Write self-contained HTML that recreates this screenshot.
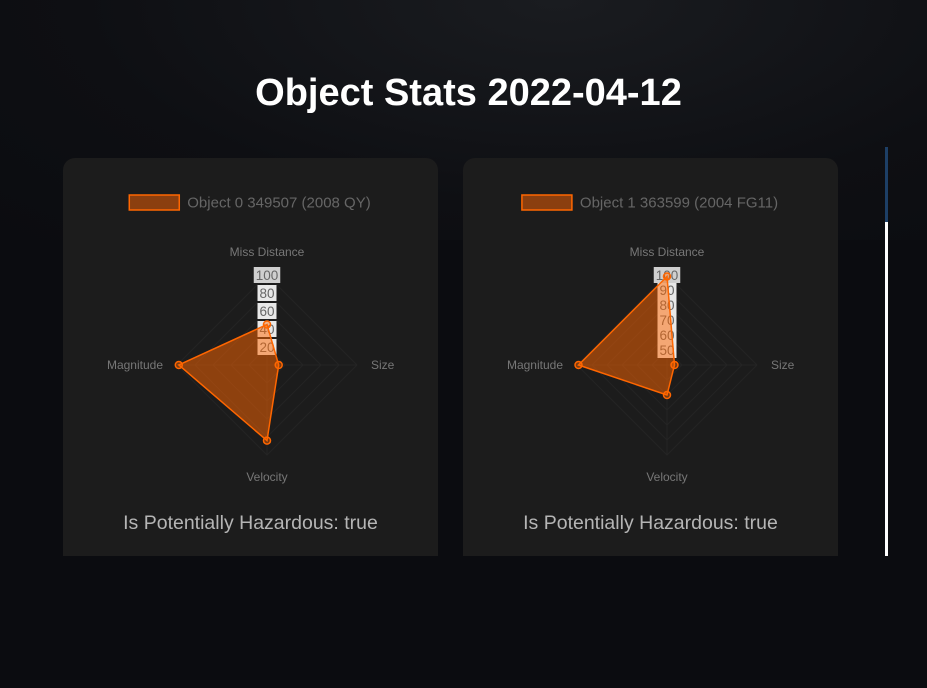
<!DOCTYPE html>
<html><head><meta charset="utf-8">
<style>
html,body{margin:0;padding:0;width:927px;height:688px;overflow:hidden;background:#0b0c10;font-family:"Liberation Sans",sans-serif;}
.bgtex{position:absolute;left:0;top:0;width:927px;height:240px;background:radial-gradient(ellipse at 60% 0%,#1a1c20 0%,#0e0f13 60%,#0b0c10 100%);}
h1{position:absolute;left:0;top:72px;width:937px;text-align:center;margin:0;color:#fff;font-size:38px;font-weight:bold;}
.card{position:absolute;top:158px;width:375px;height:398px;background:#1c1c1c;border-radius:12px 12px 0 0;}
.haz{position:absolute;top:354px;width:100%;text-align:center;color:#b5b5b5;font-size:19.5px;}
.sb1{position:absolute;left:885px;top:147px;width:3px;height:75px;background:#1d3f66;}
.sb2{position:absolute;left:885px;top:222px;width:3px;height:334px;background:#fff;}
</style></head><body>
<div class="bgtex"></div>
<h1>Object Stats 2022-04-12</h1>
<div class="card" style="left:63px">
<svg id="c0" width="375" height="340"></svg>
<div class="haz">Is Potentially Hazardous: true</div></div>
<div class="card" style="left:463px">
<svg id="c1" width="375" height="340"></svg>
<div class="haz">Is Potentially Hazardous: true</div></div>
<div class="sb1"></div>
<div class="sb2"></div>
<script>
const axisLabels=["Miss Distance","Size","Velocity","Magnitude"];
const names=["Object 0 349507 (2008 QY)","Object 1 363599 (2004 FG11)"];
const values0=[45,13,84,98];
const values1=[99,45,60,99];
const ticks0=[20,40,60,80,100];
const ticks1=[50,60,70,80,90,100];
const mins=[0,40];
const NS="http://www.w3.org/2000/svg";
function mk(svg,tag,attrs){const e=document.createElementNS(NS,tag);for(const k in attrs)e.setAttribute(k,attrs[k]);svg.appendChild(e);return e;}
function ctxW(s,f){const c=document.createElement('canvas').getContext('2d');c.font=f+'px "Liberation Sans"';return c.measureText(s).width;}
function draw(id,vals,ticks,min,name){
  const svg=document.getElementById(id);
  const cx=204,cy=207,R=90,max=100;
  const r=v=>(v-min)/(max-min)*R;
  const ang=i=>-Math.PI/2+i*Math.PI/2;
  const pt=(i,rr)=>[cx+rr*Math.cos(ang(i)),cy+rr*Math.sin(ang(i))];
  const lw=ctxW(name,15);
  const lx=187-(50+8+lw)/2;
  const lb=mk(svg,'rect',{x:lx,y:37,width:50,height:15,fill:'#8b3f0f',stroke:'#ff6600','stroke-width':1.5});
  
  
  const lt=mk(svg,'text',{x:lx+58,y:49.5,fill:'#666','font-size':15});lt.textContent=name;
  
  
  ticks.forEach(t=>{const p=[0,1,2,3].map(i=>pt(i,r(t)).join(',')).join(' ');
    const g=mk(svg,'polygon',{points:p,fill:'none',stroke:'#242424','stroke-width':1});
    
    });
  for(let i=0;i<4;i++){const [x,y]=pt(i,R);const l=mk(svg,'line',{x1:cx,y1:cy,x2:x,y2:y,stroke:'#242424'});
    
    }
  const lp=[[cx,cy-109,'middle'],[cx+104,cy+4,'start'],[cx,cy+116,'middle'],[cx-104,cy+4,'end']];
  axisLabels.forEach((a,i)=>{const t=mk(svg,'text',{x:lp[i][0],y:lp[i][1],'text-anchor':lp[i][2],fill:'#777','font-size':12});t.textContent=a;
    
    });
  ticks.forEach(t=>{const y=cy-r(t);const s=String(t);const w=s.length*7.5+4;
    const b=mk(svg,'rect',{x:cx-w/2,y:y-8,width:w,height:16,fill:t===100?'#cfcfcf':'#e8e8e8'});
    
    
    const tx=mk(svg,'text',{x:cx,y:y+5,'text-anchor':'middle',fill:'#666','font-size':13.5});tx.textContent=s;
    
    });
  const pts=vals.map((v,i)=>pt(i,r(v)));
  const poly=mk(svg,'polygon',{points:pts.map(p=>p.join(',')).join(' '),fill:'rgba(255,102,0,0.5)',stroke:'#ff6600','stroke-width':1.5});
  
  
  pts.forEach(p=>{const c=mk(svg,'circle',{cx:p[0],cy:p[1],r:3.5,fill:'rgba(255,102,0,0.4)',stroke:'#ff6600','stroke-width':1.5});
    
    });
}
draw('c0',values0,ticks0,mins[0],names[0]);
draw('c1',values1,ticks1,mins[1],names[1]);
</script>
</body></html>
